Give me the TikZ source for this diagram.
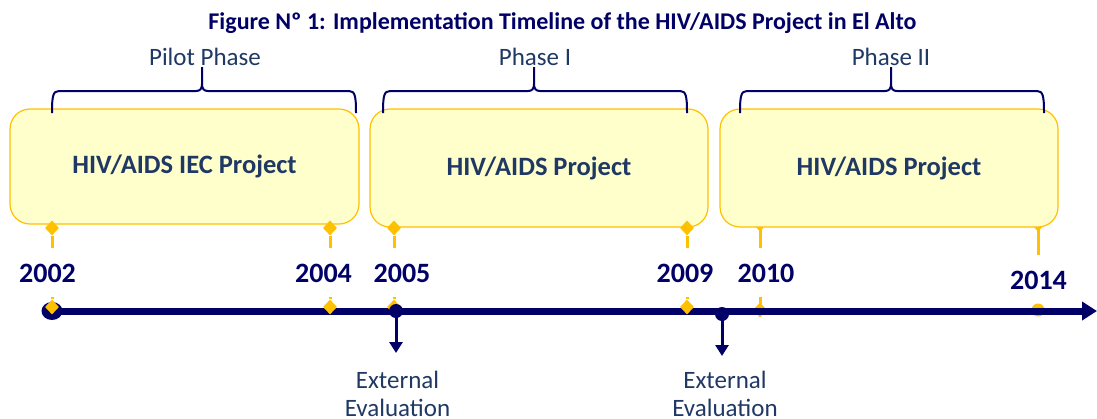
\documentclass[tikz,border=0pt]{standalone}
\usepackage{fontspec}
\setmainfont{Carlito}
\usetikzlibrary{arrows.meta,shapes.geometric}
\definecolor{navy}{HTML}{000066}
\definecolor{dblue}{HTML}{1F3864}
\definecolor{gold}{HTML}{FFC000}
\definecolor{boxfill}{HTML}{FFFFCC}
\newcommand{\phasebrace}[3]{%
  \draw[bracepath] (#1,113) .. controls (#1,96) and ({#1+1},91) .. ({#1+7},91)
    -- ({#2-6},91) .. controls ({#2-2},91) and (#2,89) .. (#2,84) -- (#2,67)
    -- (#2,84) .. controls (#2,89) and ({#2+2},91) .. ({#2+6},91)
    -- ({#3-7},91) .. controls ({#3-1},91) and (#3,96) .. (#3,113);}
\begin{document}
\begin{tikzpicture}[x=1pt,y=-1pt,
  pbox/.style={draw=gold, line width=1.2pt, fill=boxfill, rounded corners=20pt,
    inner sep=0pt, text=dblue, font=\fontsize{26.5}{30}\selectfont\bfseries},
  yr/.style={anchor=base, text=navy, font=\fontsize{28}{32}\selectfont\bfseries},
  phase/.style={anchor=base, text=dblue, font=\fontsize{25}{30}\selectfont},
  evaltext/.style={anchor=base, text=dblue, align=center, font=\fontsize{25}{28}\selectfont},
  gdiam/.style={diamond, fill=gold, inner sep=0pt, minimum width=14pt, minimum height=15pt},
  goldline/.style={draw=gold, line width=3pt},
  bracepath/.style={draw=navy, line width=2pt},
  axisline/.style={draw=navy, line width=7pt, -{Triangle[length=15pt,width=18pt]}},
  evalarrow/.style={draw=navy, line width=3pt, -{Triangle[length=11pt,width=13pt]}},
  evaldot/.style={circle, fill=navy, inner sep=0pt, minimum size=14pt}]
\useasboundingbox (0,0) rectangle (1097,418);

% title
\node[anchor=base, text=navy, font=\fontsize{24}{28}\selectfont\bfseries] (title) at (562.5,29)
  {Figure Nº 1: Implementation Timeline of the HIV/AIDS Project in El Alto};

% phase labels
\node[phase] (ph0) at (205,65.7) {Pilot Phase};
\node[phase] (ph1) at (535,65.7) {Phase I};
\node[phase] (ph2) at (891,65.7) {Phase II};

% gold markers hidden under boxes (2010, 2014)
\node[gdiam] (d10t) at (760,224) {};
\node[gdiam] (d14t) at (1038,224) {};
\coordinate (c10t) at (760,248);
\coordinate (c14t) at (1038,255);
\draw[goldline] (d10t.center) -- (c10t);
\draw[goldline] (d14t.center) -- (c14t);

% boxes
\node[pbox, minimum width=349pt, minimum height=115pt] (box1) at (184.5,166.5) {HIV/AIDS IEC Project};
\node[pbox, minimum width=338pt, minimum height=118pt] (box2) at (539,168) {HIV/AIDS Project};
\node[pbox, minimum width=338pt, minimum height=118pt] (box3) at (889,168) {HIV/AIDS Project};

% braces
\phasebrace{52}{202}{356}
\phasebrace{383}{534}{687}
\phasebrace{740}{891}{1044}

% gold markers below boxes (2002-2009)
\node[gdiam] (d02t) at (52,228) {};
\node[gdiam] (d04t) at (330,228) {};
\node[gdiam] (d05t) at (394,228) {};
\node[gdiam] (d09t) at (687,228) {};
\coordinate (c02t) at (52,248);
\coordinate (c04t) at (330,248);
\coordinate (c05t) at (394,248);
\coordinate (c09t) at (687,248);
\draw[goldline] (d02t) -- (c02t);
\draw[goldline] (d04t) -- (c04t);
\draw[goldline] (d05t) -- (c05t);
\draw[goldline] (d09t) -- (c09t);

% years
\node[yr] (y02) at (47.5,282.7) {2002};
\node[yr] (y04) at (323.5,282.7) {2004};
\node[yr] (y05) at (402,282.7) {2005};
\node[yr] (y09) at (685,282.7) {2009};
\node[yr] (y10) at (766,282.7) {2010};
\node[yr] (y14) at (1038.5,289) {2014};

% gold markers under the axis (2010, 2014)
\coordinate (c10b) at (760,297);
\node[gdiam] (d10b) at (760,310) {};
\draw[goldline] (c10b) -- (d10b.center);
\node[circle, fill=gold, inner sep=0pt, minimum size=13pt] (d14b) at (1038,310) {};

% axis
\node[ellipse, fill=navy, inner sep=0pt, minimum width=21pt, minimum height=18pt] (start) at (52,311) {};
\coordinate (axend) at (1097,311);
\draw[axisline] (start.center) -- (axend);

% gold markers over the axis (2002-2009)
\coordinate (c02b) at (52,297);
\coordinate (c04b) at (330,297);
\coordinate (c05b) at (394,297);
\coordinate (c09b) at (687,297);
\node[gdiam] (d02b) at (52,307) {};
\node[gdiam] (d04b) at (330,307) {};
\node[gdiam] (d05b) at (394,307) {};
\node[gdiam] (d09b) at (687,307) {};
\draw[goldline] (c02b) -- (d02b);
\draw[goldline] (c04b) -- (d04b);
\draw[goldline] (c05b) -- (d05b);
\draw[goldline] (c09b) -- (d09b);

% external evaluations
\node[evaldot] (e1) at (396,311) {};
\node[evaldot] (e2) at (722,314) {};
\coordinate (e1end) at (396,353);
\coordinate (e2end) at (722,356);
\draw[evalarrow] (e1.center) -- (e1end);
\draw[evalarrow] (e2.center) -- (e2end);
\node[evaltext] (ev1) at (397.5,416) {External\\Evaluation};
\node[evaltext] (ev2) at (725,416) {External\\Evaluation};
\end{tikzpicture}
\end{document}
